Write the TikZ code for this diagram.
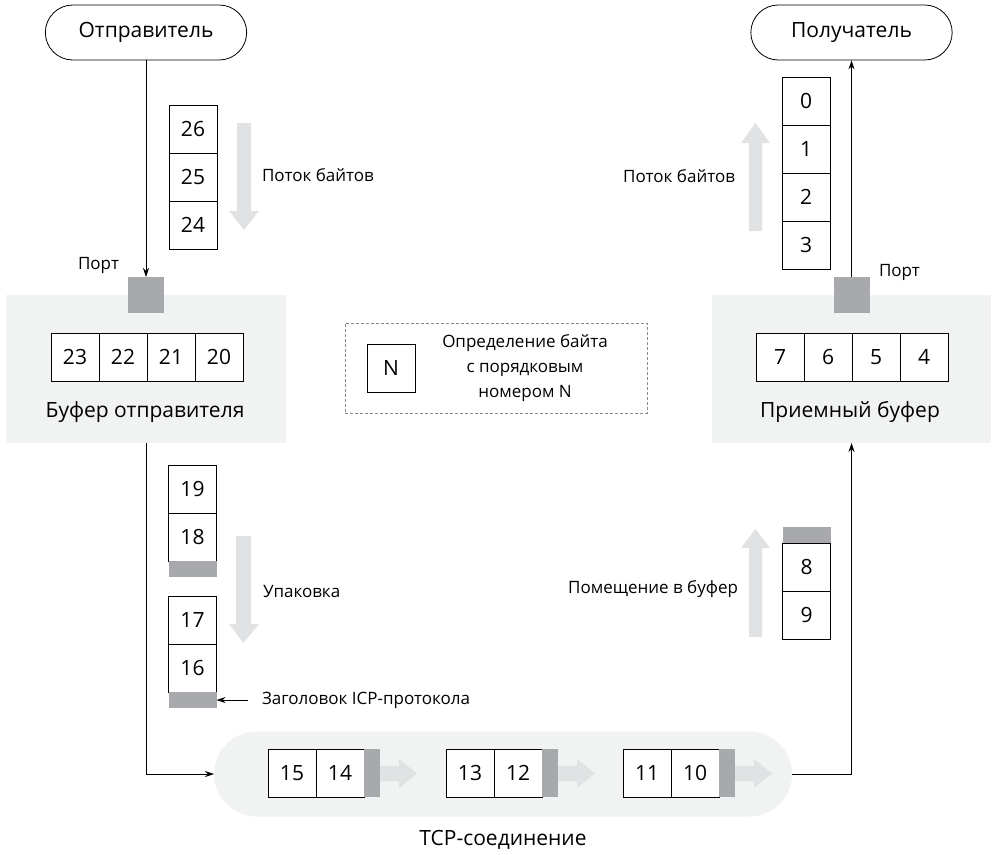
\documentclass[tikz,border=0pt]{standalone}
\usepackage{fontspec}
\setmainfont{Open Sans}
\usetikzlibrary{arrows.meta,shapes.misc}

\definecolor{panel}{HTML}{F1F2F2}
\definecolor{portgray}{HTML}{A7A9AC}
\definecolor{flowgray}{HTML}{E1E2E3}
\definecolor{legendline}{HTML}{8A8A8A}

\tikzset{
  big/.style={font=\fontsize{21}{24}\selectfont},
  small/.style={font=\fontsize{17}{20}\selectfont},
  lbl/.style={inner sep=0pt, outer sep=0pt},
  cell/.style={draw, fill=white, line width=0.8pt, minimum width=48pt,
    minimum height=48pt, inner sep=0pt, outer sep=0pt, big},
  hdr/.style={fill=portgray, minimum width=48pt, minimum height=16pt,
    inner sep=0pt, outer sep=0pt},
  vhdr/.style={fill=portgray, minimum width=16pt, minimum height=48pt,
    inner sep=0pt, outer sep=0pt},
  port/.style={fill=portgray, minimum size=36pt, inner sep=0pt, outer sep=0pt},
  panelbox/.style={fill=panel, inner sep=0pt, outer sep=0pt},
  endpoint/.style={draw, rounded rectangle, line width=0.8pt,
    minimum width=208pt, minimum height=55pt, big},
  link/.style={line width=0.8pt, -{Stealth[length=9pt,width=6pt]}},
  flow/.style={fill=flowgray},
}

\begin{document}
\begin{tikzpicture}[x=1pt,y=-1pt]
\useasboundingbox (0,0) rectangle (992,854);

% background panels
\node[panelbox, minimum width=280pt, minimum height=148pt] (sbuf) at (146,369) {};
\node[panelbox, minimum width=279pt, minimum height=148pt] (rbuf) at (851.5,369) {};
\node[panelbox, rounded rectangle, minimum width=578pt, minimum height=85pt] (tcp) at (503,774) {};

% end points
\node[endpoint] (snd) at (146,32.5) {Отправитель};
\node[endpoint] (rcv) at (851.5,32.5) {Получатель};

% ports
\node[port] (sport) at (146,295) {};
\node[port] (rport) at (851.5,295) {};
\node[lbl, small] (sportL) at (98.5,265) {Порт};
\node[lbl, small, anchor=west] (rportL) at (879,272) {Порт};

% byte stream leaving the sender
\foreach \n/\y in {26/129,25/177,24/225}
  \node[cell] (c\n) at (193,\y) {\n};
% sender buffer
\foreach \n/\x in {23/75,22/123,21/171,20/219}
  \node[cell] (c\n) at (\x,357) {\n};
\node[lbl, big] (sbufL) at (145,412) {Буфер отправителя};

% receiver buffer
\foreach \n/\x in {7/780,6/828,5/876,4/924}
  \node[cell] (c\n) at (\x,357) {\n};
\node[lbl, big] (rbufL) at (850,412) {Приемный буфер};

% byte stream delivered to the receiver
\foreach \n/\y in {0/101,1/149,2/197,3/245}
  \node[cell] (c\n) at (806,\y) {\n};

% segments being packed
\foreach \n/\y in {19/489,18/537,17/620,16/668}
  \node[cell] (c\n) at (192.5,\y) {\n};
\node[hdr] (h18) at (192.5,569) {};
\node[hdr] (h16) at (192.5,700) {};

% segment being buffered
\foreach \n/\y in {8/567,9/615}
  \node[cell] (c\n) at (806.5,\y) {\n};
\node[hdr] (h8) at (806.5,534.5) {};

% segments in transit
\foreach \n/\x in {15/292,14/340,13/470,12/518,11/647,10/695}
  \node[cell] (c\n) at (\x,773) {\n};
\node[vhdr] (h14) at (372,773) {};
\node[vhdr] (h12) at (550,773) {};
\node[vhdr] (h10) at (727,773) {};

% wide flow arrows
\fill[flow] (237,123) -- (251,123) -- (251,211) -- (259,211) -- (244,230) -- (229,211) -- (237,211) -- cycle;
\fill[flow] (236,536) -- (251,536) -- (251,624) -- (259,624) -- (243.5,643) -- (229,624) -- (236,624) -- cycle;
\fill[flow] (749,231) -- (762,231) -- (762,143) -- (770,143) -- (755.5,123) -- (741,143) -- (749,143) -- cycle;
\fill[flow] (749,637) -- (762,637) -- (762,548) -- (770,548) -- (755.5,529) -- (741,548) -- (749,548) -- cycle;
\foreach \x in {380,558,735}
  \fill[flow] (\x,766) -- (\x+19,766) -- (\x+19,759) -- (\x+37,773.5) -- (\x+19,788) -- (\x+19,781) -- (\x,781) -- cycle;

% flow labels
\node[lbl, small, anchor=west] (flowL) at (262,175) {Поток байтов};
\node[lbl, small, anchor=east] (flowR) at (735,176) {Поток байтов};
\node[lbl, small, anchor=west] (packL) at (263,592) {Упаковка};
\node[lbl, small, anchor=east] (bufferL) at (738,589) {Помещение в буфер};
\node[lbl, small, anchor=west, inner xsep=14pt] (hdrL) at (248,700) {Заголовок ICP-протокола};
\node[lbl, big] (tcpL) at (503,840) {TCP-соединение};

% legend
\node[draw=legendline, dash pattern=on 3pt off 2pt, line width=0.6pt,
  minimum width=302pt, minimum height=90pt, inner sep=0pt] (legend) at (496,368) {};
\node[cell] (cN) at (391,368) {N};
\node[lbl, align=center, font=\fontsize{17}{25}\selectfont] (legendL) at (525,368)
  {Определение байта\\с порядковым\\номером N};

% connectors
\draw[link] (snd.south) -- (sport.north);
\draw[link] (sbuf.south) |- (tcp.west);
\draw[link] (tcp.east) -| (rbuf.south);
\draw[link] (rport.north) -- (rcv.south);
\draw[link] (hdrL.west) -- (h16.east);
\end{tikzpicture}
\end{document}
